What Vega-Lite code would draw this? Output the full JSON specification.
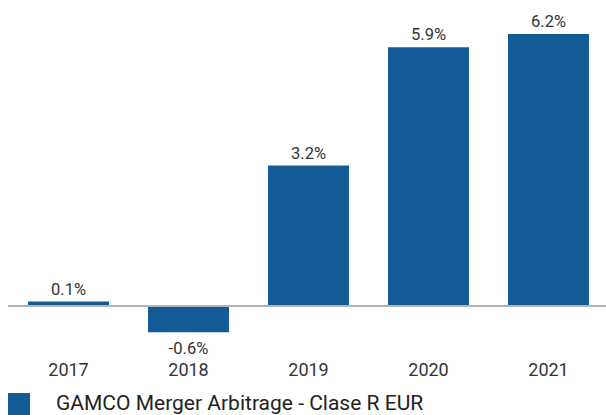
{
  "$schema": "https://vega.github.io/schema/vega-lite/v6.json",
  "width": 600,
  "height": 298.3,
  "autosize": "none",
  "padding": {"left": 8.5, "top": 34, "right": 0, "bottom": 82.7},
  "config": {"view": {"stroke": null}, "font": "Roboto"},
  "data": {
    "values": [
      {"year": "2017", "value": 0.1, "label": "0.1%", "series": "GAMCO Merger Arbitrage - Clase R EUR"},
      {"year": "2018", "value": -0.6, "label": "-0.6%", "series": "GAMCO Merger Arbitrage - Clase R EUR"},
      {"year": "2019", "value": 3.2, "label": "3.2%", "series": "GAMCO Merger Arbitrage - Clase R EUR"},
      {"year": "2020", "value": 5.9, "label": "5.9%", "series": "GAMCO Merger Arbitrage - Clase R EUR"},
      {"year": "2021", "value": 6.2, "label": "6.2%", "series": "GAMCO Merger Arbitrage - Clase R EUR"}
    ]
  },
  "encoding": {
    "x": {
      "field": "year",
      "type": "nominal",
      "scale": {"paddingInner": 0.325, "paddingOuter": 0.1625},
      "axis": {
        "title": null,
        "domain": false,
        "ticks": false,
        "labelAngle": 0,
        "labelFontSize": 18,
        "labelColor": "#333333",
        "labelBaseline": "middle",
        "labelPadding": 38
      }
    },
    "y": {
      "field": "value",
      "type": "quantitative",
      "scale": {"domain": [-0.6, 6.2], "nice": false, "zero": true},
      "axis": null
    }
  },
  "layer": [
    {
      "mark": {"type": "bar"},
      "encoding": {
        "color": {
          "field": "series",
          "type": "nominal",
          "scale": {"range": ["#135b97"]},
          "legend": {
            "title": null,
            "orient": "none",
            "legendX": -0.5,
            "legendY": 359,
            "symbolType": "square",
            "symbolSize": 484,
            "symbolStrokeWidth": 0,
            "labelFontSize": 21,
            "labelColor": "#222222",
            "labelOffset": 26,
            "labelLimit": 600,
            "padding": 0
          }
        }
      }
    },
    {
      "mark": {"type": "rule", "color": "#b3b3b3", "strokeWidth": 2},
      "encoding": {"y": {"datum": 0}, "x": null}
    },
    {
      "transform": [{"filter": "datum.value >= 0"}],
      "mark": {"type": "text", "baseline": "alphabetic", "dy": -7, "fontSize": 16.5, "color": "#333333"},
      "encoding": {"text": {"field": "label"}}
    },
    {
      "transform": [{"filter": "datum.value < 0"}],
      "mark": {"type": "text", "baseline": "top", "dy": 9, "fontSize": 16.5, "color": "#333333"},
      "encoding": {"text": {"field": "label"}}
    }
  ]
}
